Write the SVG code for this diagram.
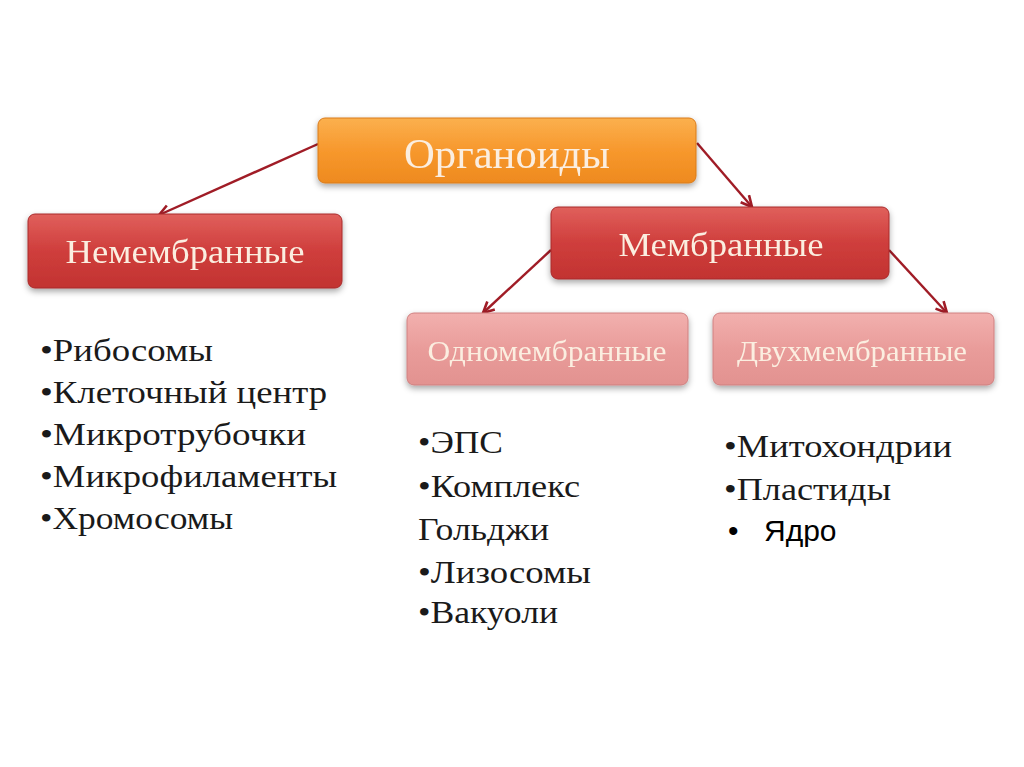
<svg xmlns="http://www.w3.org/2000/svg" width="1024" height="767" viewBox="0 0 1024 767">
<defs>
<linearGradient id="gOr" x1="0" y1="0" x2="0" y2="1"><stop offset="0" stop-color="#fbb04e"/><stop offset="0.5" stop-color="#f7982d"/><stop offset="1" stop-color="#ee8a1e"/></linearGradient>
<linearGradient id="gRed" x1="0" y1="0" x2="0" y2="1"><stop offset="0" stop-color="#e0605c"/><stop offset="0.5" stop-color="#cf3e3c"/><stop offset="1" stop-color="#c23331"/></linearGradient>
<linearGradient id="gPink" x1="0" y1="0" x2="0" y2="1"><stop offset="0" stop-color="#f2b0ae"/><stop offset="0.5" stop-color="#e99c9a"/><stop offset="1" stop-color="#e29290"/></linearGradient>
<filter id="sh" x="-10%" y="-20%" width="120%" height="150%"><feDropShadow dx="0" dy="3" stdDeviation="3" flood-color="#000" flood-opacity="0.35"/></filter>
<marker id="ar" viewBox="0 0 14 14" refX="12" refY="7" markerWidth="14" markerHeight="14" markerUnits="userSpaceOnUse" orient="auto"><path d="M1,1.5 L12,7 L1,12.5" fill="none" stroke="#a01c26" stroke-width="2.6"/></marker>
<style>
.box{stroke-width:1}
.or{fill:url(#gOr);stroke:#d97a1a}
.red{fill:url(#gRed);stroke:#a82a2a}
.pink{fill:url(#gPink);stroke:#cf8080}
.lbl{font-family:"Liberation Serif","DejaVu Serif",serif;text-anchor:middle;fill:#fbeee0}
.lst{font-family:"Liberation Serif","DejaVu Serif",serif;font-size:32px;fill:#1a1a1a}
.sans{font-family:"Liberation Sans",Arial,sans-serif;font-size:30px;fill:#000}
.con{stroke:#a01c26;stroke-width:2.4;fill:none;marker-end:url(#ar)}
</style>
</defs>
<rect width="1024" height="767" fill="#ffffff"/>
<g id="connectors">
<line class="con" x1="318" y1="144" x2="159" y2="215"/>
<line class="con" x1="697" y1="143" x2="752" y2="207"/>
<line class="con" x1="551" y1="250" x2="483" y2="313"/>
<line class="con" x1="889" y1="250" x2="947" y2="313"/>
</g>
<g id="organoidy" filter="url(#sh)">
<rect class="box or" x="318" y="118" width="378" height="65" rx="7"/>
<text class="lbl" x="507" y="168" font-size="43" textLength="206" lengthAdjust="spacingAndGlyphs">Органоиды</text>
</g>
<g id="nemembrannye" filter="url(#sh)">
<rect class="box red" x="28" y="214" width="314" height="74" rx="7"/>
<text class="lbl" x="185" y="263" font-size="33" textLength="239" lengthAdjust="spacingAndGlyphs">Немембранные</text>
</g>
<g id="membrannye" filter="url(#sh)">
<rect class="box red" x="551" y="207" width="338" height="72" rx="7"/>
<text class="lbl" x="721" y="256" font-size="33" textLength="205" lengthAdjust="spacingAndGlyphs">Мембранные</text>
</g>
<g id="odnomembrannye" filter="url(#sh)">
<rect class="box pink" x="407" y="313" width="281" height="72" rx="7"/>
<text class="lbl" x="547" y="361" font-size="29" textLength="239" lengthAdjust="spacingAndGlyphs">Одномембранные</text>
</g>
<g id="dvuhmembrannye" filter="url(#sh)">
<rect class="box pink" x="713" y="313" width="281" height="72" rx="7"/>
<text class="lbl" x="852" y="361" font-size="29" textLength="230" lengthAdjust="spacingAndGlyphs">Двухмембранные</text>
</g>
<g id="list-nonmembrane">
<text class="lst" x="40" y="361" textLength="173" lengthAdjust="spacingAndGlyphs">•Рибосомы</text>
<text class="lst" x="40" y="403" textLength="287" lengthAdjust="spacingAndGlyphs">•Клеточный центр</text>
<text class="lst" x="40" y="445" textLength="266" lengthAdjust="spacingAndGlyphs">•Микротрубочки</text>
<text class="lst" x="40" y="487" textLength="297" lengthAdjust="spacingAndGlyphs">•Микрофиламенты</text>
<text class="lst" x="40" y="529" textLength="193" lengthAdjust="spacingAndGlyphs">•Хромосомы</text>
</g>
<g id="list-single">
<text class="lst" x="418" y="453" textLength="85" lengthAdjust="spacingAndGlyphs">•ЭПС</text>
<text class="lst" x="418" y="497" textLength="162" lengthAdjust="spacingAndGlyphs">•Комплекс</text>
<text class="lst" x="418" y="540" textLength="131" lengthAdjust="spacingAndGlyphs">Гольджи</text>
<text class="lst" x="418" y="583" textLength="173" lengthAdjust="spacingAndGlyphs">•Лизосомы</text>
<text class="lst" x="418" y="623" textLength="140" lengthAdjust="spacingAndGlyphs">•Вакуоли</text>
</g>
<g id="list-double">
<text class="lst" x="724" y="457" textLength="228" lengthAdjust="spacingAndGlyphs">•Митохондрии</text>
<text class="lst" x="724" y="500" textLength="167" lengthAdjust="spacingAndGlyphs">•Пластиды</text>
<text class="sans" x="728" y="541">•</text>
<text class="sans" x="764" y="541">Ядро</text>
</g>
</svg>
